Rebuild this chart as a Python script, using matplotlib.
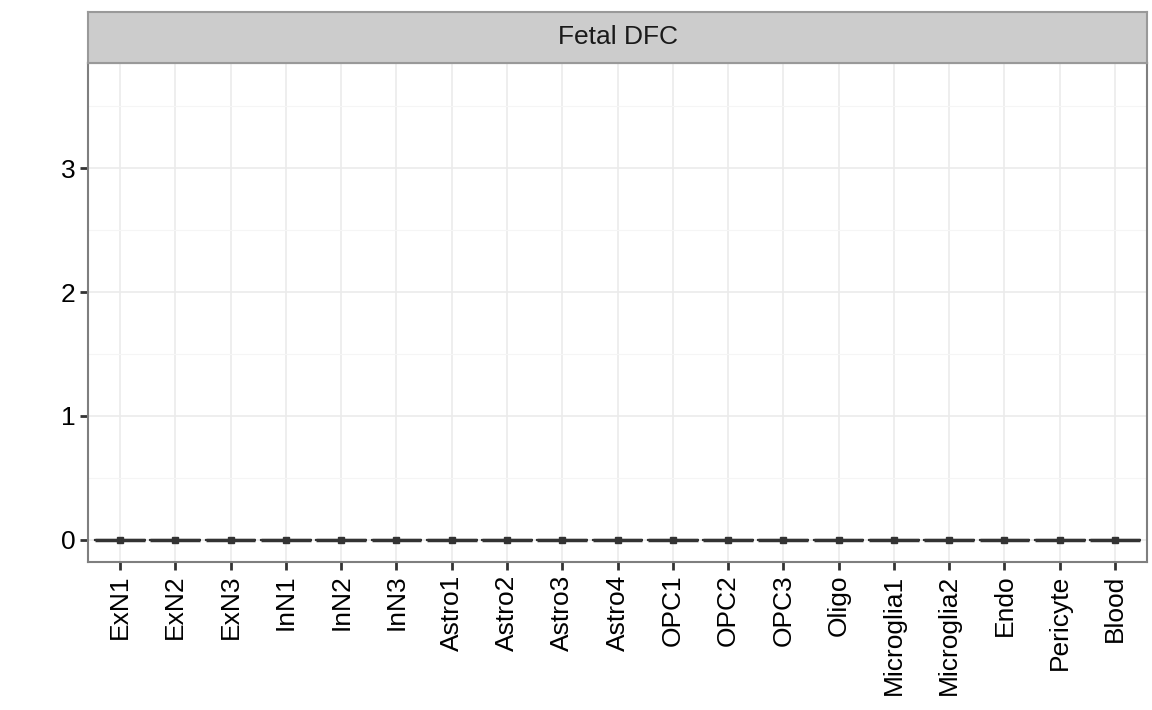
import numpy as np
import matplotlib
matplotlib.use("Agg")
import matplotlib.pyplot as plt

plt.rcParams['font.family'] = ['Liberation Sans', 'DejaVu Sans']

# cell types (x categories)
cell_types = ['ExN1', 'ExN2', 'ExN3', 'InN1', 'InN2', 'InN3',
              'Astro1', 'Astro2', 'Astro3', 'Astro4', 'OPC1', 'OPC2', 'OPC3',
              'Oligo', 'Microglia1', 'Microglia2', 'Endo', 'Pericyte', 'Blood']
# expression values per cell type (all zero in this panel)
values = [[0.0, 0.0, 0.0] for _ in cell_types]
panel_title = 'Fetal DFC'
y_ticks = [0, 1, 2, 3]
y_minor = [0.5, 1.5, 2.5, 3.5]

fig = plt.figure(figsize=(11.52, 7.1), dpi=100)
ax = fig.add_axes([88 / 1152, 148 / 710, 1059 / 1152, 499 / 710])

pos = np.arange(1, len(cell_types) + 1)
ax.boxplot(values, positions=pos, widths=0.9, showfliers=False,
           showmeans=True, patch_artist=False,
           boxprops=dict(color='#333333', linewidth=1.5),
           medianprops=dict(color='#333333', linewidth=2.5),
           whiskerprops=dict(color='#333333', linewidth=1.5),
           capprops=dict(linewidth=0),
           meanprops=dict(marker='s', markersize=4, markerfacecolor='#333333',
                          markeredgecolor='#333333'))

ax.set_xlim(0.42, len(cell_types) + 0.58)
ax.set_ylim(-0.18, 3.85)
ax.set_xticks(pos)
ax.set_xticklabels(cell_types, rotation=90, fontsize=19, color='black')
ax.set_yticks(y_ticks)
ax.set_yticks(y_minor, minor=True)
ax.tick_params(axis='both', which='major', length=6, width=2, color='#333333',
               labelsize=19, labelcolor='black', pad=3)
ax.tick_params(axis='y', which='minor', length=0)
ax.grid(True, which='major', color='#EBEBEB', linewidth=1.2)
ax.grid(True, which='minor', axis='y', color='#F5F5F5', linewidth=0.8)
ax.set_axisbelow(True)
for s in ax.spines.values():
    s.set_color('#7F7F7F')
    s.set_linewidth(1.5)

# facet strip
strip = fig.add_axes([88 / 1152, 647 / 710, 1059 / 1152, 51 / 710])
strip.set_xticks([])
strip.set_yticks([])
strip.set_facecolor('#CCCCCC')
for s in strip.spines.values():
    s.set_color('#999999')
    s.set_linewidth(1.5)
strip.text(0.5, 0.5, panel_title, ha='center', va='center', fontsize=19,
           color='#1A1A1A', transform=strip.transAxes)

fig.savefig('out.png', dpi=100)
